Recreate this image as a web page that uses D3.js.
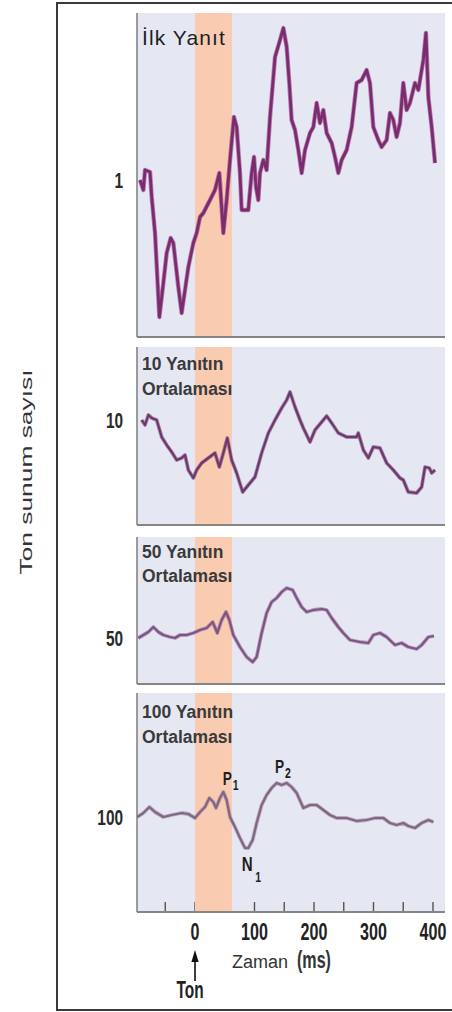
<!DOCTYPE html>
<html>
<head>
<meta charset="utf-8">
<script src="https://cdn.jsdelivr.net/npm/d3@7/dist/d3.min.js"></script>
<style>
  html, body { margin: 0; padding: 0; background: #fff; }
  svg { display: block; }
</style>
</head>
<body>
<script>
// ---------- DATA (time in ms, response amplitude in arbitrary units) ----------
const times1 = [-92.4,-86.8,-84,-75.6,-72.8,-67.2,-59.9,-53.2,-47.6,-40.9,-36.4,-28,-22.4,-16.8,-11.2,-2.8,2.8,8.4,14,25.2,33.6,40.9,47.6,53.2,58.8,65.5,70,75.6,78.4,89.6,95.2,99.2,102.5,106.4,109.2,114.8,120.4,126.1,134.5,142.9,148.5,154.1,158.5,162.4,168.1,173.7,179.3,184.9,193.3,198.9,204.5,210.1,215.7,221.3,229.7,235.3,240.9,246.5,254.9,263.3,271.7,280.1,288.5,294.1,299.7,308.1,313.7,322.1,327.7,333.3,338.9,344.5,350.1,355.7,361.3,369.7,375.4,383.8,388.2,392.2,397.8,403.4];
const vals1  = [1.0,0,2.0,1.8,-0.7,-4.3,-12.7,-9.3,-6.3,-4.8,-5.3,-9.7,-12.3,-10.0,-7.7,-5.3,-4.3,-2.7,-2.3,-1.0,0,1.7,-4.3,-1.0,3.0,7.3,6.3,1.7,-2.0,-2.0,1.7,3.3,0.3,-1.0,1.7,3.0,2.0,7.3,13.3,15.0,16.2,14.3,10.7,7.0,6.0,4.0,1.7,4.0,5.7,6.3,8.7,6.7,8.0,5.7,4.7,3.3,1.7,3.0,4.0,6.3,10.7,11.0,12.0,10.7,6.3,5.0,4.3,5.0,7.7,7.0,5.3,6.7,10.7,8.0,8.7,10.7,10.0,13.0,15.7,9.3,6.3,2.7];

const times10 = [-89.6,-84,-78.4,-72.8,-64.4,-56,-47.6,-39.2,-30.8,-22.4,-16.8,-11.2,-2.8,2.8,11.2,22.4,33.6,40.9,47.6,54.3,61.6,70,80.1,89.6,100.8,112,123.3,134.5,145.7,154.1,159.7,168.1,176.5,182.1,193.3,201.7,212.9,221.3,229.7,240.9,254.9,271.7,274.5,283,291.4,299.7,310.9,322.1,333.3,344.5,350.1,358.5,372.5,381,386.6,393.8,397.8,403.4];
const vals10  = [-3.0,-3.5,-2.5,-2.8,-3.0,-4.7,-5.5,-6.2,-7.0,-6.8,-6.5,-8.0,-8.8,-8.0,-7.3,-6.8,-6.3,-7.7,-6.3,-4.8,-7.0,-8.3,-10.2,-9.5,-8.7,-6.3,-4.3,-3.0,-1.8,-1.0,-0.2,-1.7,-3.0,-3.8,-5.2,-4.0,-3.2,-2.6,-3.3,-4.3,-4.7,-4.7,-4.3,-6.0,-6.8,-5.7,-5.8,-7.3,-8.0,-8.8,-9.0,-10.2,-10.3,-9.7,-7.7,-7.8,-8.3,-8.0];

const times50 = [-95.3,-86.8,-78.4,-70,-61.6,-53.2,-42,-33.6,-25.2,-14,-2.8,8.4,19.6,29.7,37.5,44.8,52.1,57.7,64.4,75.6,86.8,96.9,103.6,112,120.4,128.8,137.2,145.7,154.1,164.1,170.9,179.3,187.7,198.9,212.9,221.3,229.7,240.9,249.3,260.5,277.3,291.4,299.7,310.9,322.1,336.1,347.3,358.5,372.5,381,392.2,401.7];
const vals50  = [0.4,0.7,1.0,1.5,1.0,0.7,0.5,0.4,0.7,0.7,0.9,1.2,1.4,2.0,0.9,2.2,3.0,2.2,0.7,-0.5,-1.5,-2.0,-1.5,0.9,2.9,4.0,4.4,5.0,5.4,5.2,4.4,3.5,3.0,3.2,3.3,3.2,2.4,1.5,0.9,0.2,0.0,-0.1,0.7,0.9,0.5,-0.3,-0.1,-0.5,-0.7,-0.3,0.5,0.6];

const times100 = [-97,-86.8,-76.7,-67.2,-53.2,-39.2,-22.4,-11.2,0,8.4,16.8,24.1,30.8,35.3,42,47.6,53.2,58.8,67.2,75.6,84,89.6,96.9,103.6,112,120.4,128.8,137.2,145.7,154.1,162.4,170.9,182.1,193.3,204.5,215.7,226.9,238.1,254.9,271.7,288.5,302.5,316.5,327.7,338.9,350.1,358.5,369.7,381,392.2,400.6];
const vals100  = [0.1,0.5,1.1,0.6,0.1,0.3,0.5,0.4,0,0.6,1.1,2.0,1.6,1.0,2.0,2.6,1.8,0.1,-0.9,-2.0,-3.0,-3.0,-2.2,-0.5,1.3,2.3,3.0,3.5,3.3,3.5,3.1,2.5,1.0,1.3,1.3,0.8,0.3,0,0,-0.3,-0.2,0,0.0,-0.5,-0.7,-0.5,-0.8,-1.0,-0.5,-0.2,-0.4];

const presentationCounts = ["1", "10", "50", "100"];
const panelTitles = [["İlk Yanıt"], ["10 Yanıtın", "Ortalaması"], ["50 Yanıtın", "Ortalaması"], ["100 Yanıtın", "Ortalaması"]];
const stimulusWindow = [0, 62];           // ms, tone interval
const xTickValues = [-50, 0, 50, 100, 150, 200, 250, 300, 350, 400];
const xTickLabels = [0, 100, 200, 300, 400];
const peakNames = ["P", "N", "P"];
const peakSubs  = ["1", "1", "2"];
const peakTimes = [47.6, 89.6, 137.2];
const peakVals  = [2.6, -3.0, 3.5];

// ---------- LAYOUT ----------
const W = 452, H = 1012;
const svg = d3.select("body").append("svg").attr("width", W).attr("height", H);
const FONT = "'Liberation Sans', Arial, Helvetica, sans-serif";

const x = d3.scaleLinear().domain([-97.5, 420.2]).range([137, 445]);

const panels = [
  { top: 13,  bottom: 337, dom: [-14.7, 17.7], t: times1,   v: vals1,   color: "#7a2c6d", w: 3.4 },
  { top: 347, bottom: 525, dom: [-13.5, 4.3],  t: times10,  v: vals10,  color: "#6c3a6a", w: 2.8 },
  { top: 537, bottom: 684, dom: [-4.2, 10.5],  t: times50,  v: vals50,  color: "#7c5680", w: 2.8 },
  { top: 693, bottom: 912, dom: [-9.4, 12.5],  t: times100, v: vals100, color: "#806782", w: 2.8 }
];
const titleOffsets = [[32], [23, 48], [21, 45], [25, 50]];
const titleSizes = [21, 17.5, 17.5, 17.5];

// outer frame
svg.append("rect").attr("x", 57).attr("y", 3).attr("width", 440).attr("height", 1007)
  .attr("fill", "none").attr("stroke", "#3a3a3a").attr("stroke-width", 2);

// condensed text helper
function condText(sel, px, py, str, size, anchor, sx, weight, fill) {
  return sel.append("text")
    .attr("transform", `translate(${px},${py}) scale(${sx},1)`)
    .attr("text-anchor", anchor)
    .attr("font-family", FONT)
    .attr("font-size", size)
    .attr("font-weight", weight || "bold")
    .attr("fill", fill || "#222")
    .text(str);
}

panels.forEach((p, i) => {
  const g = svg.append("g");
  const y = d3.scaleLinear().domain(p.dom).range([p.bottom, p.top]);

  // background
  g.append("rect").attr("x", x.range()[0]).attr("y", p.top)
    .attr("width", x.range()[1] - x.range()[0]).attr("height", p.bottom - p.top)
    .attr("fill", "#e5e7f3");

  // ticks (bottom panel only), drawn under the band
  if (i === 3) {
    g.selectAll("line.tick").data(xTickValues).join("line")
      .attr("x1", d => x(d)).attr("x2", d => x(d))
      .attr("y1", p.bottom).attr("y2", p.bottom - 10)
      .attr("stroke", "#555").attr("stroke-width", 1.4);
  }

  // stimulus band
  g.append("rect").attr("x", x(stimulusWindow[0])).attr("y", p.top)
    .attr("width", x(stimulusWindow[1]) - x(stimulusWindow[0])).attr("height", p.bottom - p.top)
    .attr("fill", "#f9cbb1");

  // L-shaped axis lines
  g.append("line").attr("x1", x.range()[0]).attr("x2", x.range()[0])
    .attr("y1", p.top).attr("y2", p.bottom).attr("stroke", "#858585").attr("stroke-width", 1.6);
  g.append("line").attr("x1", x.range()[0]).attr("x2", x.range()[1])
    .attr("y1", p.bottom).attr("y2", p.bottom).attr("stroke", "#858585").attr("stroke-width", 1.8);

  // trace
  const pts = p.t.map((t, k) => [t, p.v[k]]);
  const line = d3.line().x(d => x(d[0])).y(d => y(d[1]));
  g.append("path").datum(pts).attr("d", line)
    .attr("fill", "none").attr("stroke", d3.color(p.color).brighter(0.6)).attr("stroke-opacity", 0.6)
    .attr("stroke-width", p.w + 1).attr("stroke-linejoin", "round");
  g.append("path").datum(pts).attr("d", line)
    .attr("fill", "none").attr("stroke", p.color)
    .attr("stroke-width", p.w - 0.6).attr("stroke-linejoin", "round");

  // titles
  panelTitles[i].forEach((s, k) => {
    g.append("text").attr("x", 142).attr("y", p.top + titleOffsets[i][k])
      .attr("font-family", FONT).attr("font-size", titleSizes[i])
      .attr("font-weight", i === 0 ? "normal" : "bold")
      .attr("letter-spacing", i === 0 ? 1.1 : 0)
      .attr("fill", i === 0 ? "#1e1e1e" : "#3a3a3a")
      .text(s);
  });

  // count label at trace start level
  condText(svg, 123, y(p.v[0]) + 8, presentationCounts[i], 22, "end", 0.7, "bold", "#2a2a2a");

  // peak labels in the bottom panel
  if (i === 3) {
    const offs = [[-0.6, -6.7], [-6.6, 23.4], [-1.6, -10]];
    peakNames.forEach((n, k) => {
      const px = x(peakTimes[k]) + offs[k][0], py = y(peakVals[k]) + offs[k][1];
      condText(g, px, py, n, n === "N" ? 21 : 19, "start", 0.72, "bold", "#1e1e1e");
      condText(g, px + (n === "N" ? 13.5 : 10), py + (n === "N" ? 11 : 5), peakSubs[k], 14, "start", 0.75, "bold", "#1e1e1e");
    });
  }
});

// x tick labels
xTickLabels.forEach(v => condText(svg, x(v), 940, String(v), 24, "middle", 0.67, "bold", "#222"));

// x axis title
svg.append("text").attr("x", 232).attr("y", 968).attr("font-family", FONT)
  .attr("font-size", 18).attr("fill", "#333").text("Zaman");
condText(svg, 297, 968, "(ms)", 24, "start", 0.67, "bold", "#333");

// tone arrow
svg.append("line").attr("x1", x(0)).attr("x2", x(0)).attr("y1", 981).attr("y2", 958)
  .attr("stroke", "#111").attr("stroke-width", 1.6);
svg.append("path").attr("d", `M${x(0)},950 L${x(0) - 3.6},962 L${x(0) + 3.6},962 Z`).attr("fill", "#111");
condText(svg, x(0) - 5, 998, "Ton", 23, "middle", 0.67, "bold", "#222");

// y axis title
svg.append("text")
  .attr("transform", "translate(32,472) rotate(-90)")
  .attr("text-anchor", "middle")
  .attr("font-family", FONT).attr("font-size", 16).attr("fill", "#333")
  .attr("textLength", 205).attr("lengthAdjust", "spacingAndGlyphs")
  .text("Ton sunum sayısı");
</script>
</body>
</html>
